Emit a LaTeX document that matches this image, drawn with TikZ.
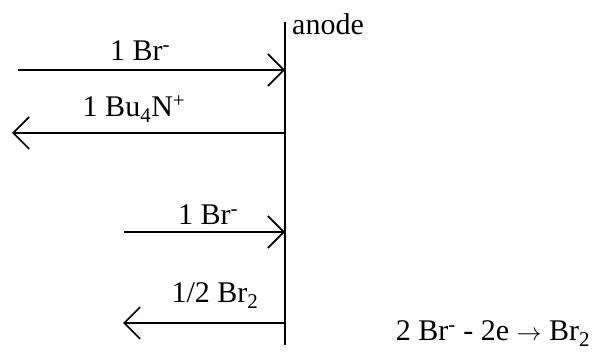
\documentclass[tikz,border=0pt]{standalone}
\usepackage{fontspec}
\setmainfont{Liberation Serif}
\usetikzlibrary{arrows.meta}

\begin{document}
\begin{tikzpicture}[x=1pt, y=-1pt,
    every node/.style={font=\fontsize{30}{33}\selectfont, inner sep=0pt},
    flow/.style={line width=1.6pt, -{Straight Barb[length=16pt, width=32pt, line width=1.6pt]}}]
  \useasboundingbox (0,0) rectangle (605,355);
  % electrode
  \coordinate (etop) at (285,22);
  \coordinate (ebot) at (285,345);
  \draw[line width=1.6pt] (etop) -- (ebot);
  \node[anchor=base west] (anode) at (292,35) {anode};
  % ion flows
  \coordinate (a1) at (18,70);   \coordinate (e1) at (285,70);
  \coordinate (a2) at (12,133);  \coordinate (e2) at (285,133);
  \coordinate (a3) at (124,232); \coordinate (e3) at (285,232);
  \coordinate (a4) at (123,323); \coordinate (e4) at (285,323);
  \draw[flow] (a1) -- (e1);
  \draw[flow] (e2) -- (a2);
  \draw[flow] (a3) -- (e3);
  \draw[flow] (e4) -- (a4);
  \node[anchor=base] (br1) at (140,61) {1 Br\textsuperscript{-}};
  \node[anchor=base] (bun) at (134,117) {1 Bu\textsubscript{4}N\textsuperscript{+}};
  \node[anchor=base] (br2) at (208,225) {1 Br\textsuperscript{-}};
  \node[anchor=base] (brh) at (215,303) {1/2 Br\textsubscript{2}};
  \node[anchor=base] (eqn) at (493,341) {2 Br\textsuperscript{-} - 2e $\rightarrow$ Br\textsubscript{2}};
\end{tikzpicture}
\end{document}
